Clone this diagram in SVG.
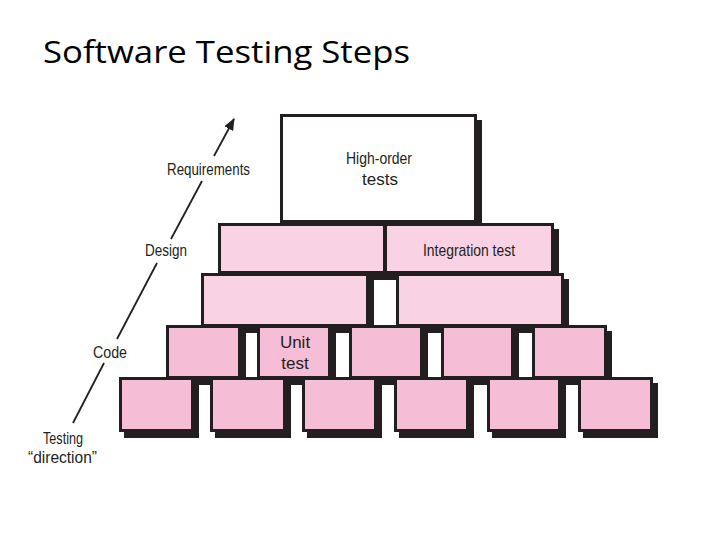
<svg xmlns="http://www.w3.org/2000/svg" width="720" height="540" viewBox="0 0 720 540">
<defs>
<style>
.title{font-family:"Open Sans","Liberation Sans",sans-serif;font-size:31px;fill:#000}
.t{font-family:"Liberation Sans",Arial,sans-serif;font-size:17px;fill:#231f20}
.box{stroke:#231f20;stroke-width:3}
.sh{fill:#231f20}
.w{fill:#ffffff}
.l{fill:#f9d3e4}
.p{fill:#f5bdd6}
.ax{stroke:#231f20;stroke-width:1.8;fill:none}
</style>
<marker id="ah" viewBox="0 0 12 10" refX="11" refY="5" markerWidth="12" markerHeight="10" markerUnits="userSpaceOnUse" orient="auto">
<path d="M0,0 L12,5 L0,10 z" fill="#231f20"/>
</marker>
</defs>
<rect width="720" height="540" fill="#fff"/>
<text class="title" x="43" y="63" textLength="367" lengthAdjust="spacingAndGlyphs">Software Testing Steps</text>

<g id="connectors">
<line class="ax" x1="214" y1="156" x2="234" y2="119" marker-end="url(#ah)"/>
<line class="ax" x1="202" y1="181" x2="171" y2="239"/>
<line class="ax" x1="157" y1="263" x2="117" y2="339"/>
<line class="ax" x1="104" y1="363" x2="73" y2="423"/>
</g>

<g id="label-requirements"><text class="t" x="167" y="175" textLength="83" lengthAdjust="spacingAndGlyphs">Requirements</text></g>
<g id="label-design"><text class="t" x="145" y="256" textLength="42" lengthAdjust="spacingAndGlyphs">Design</text></g>
<g id="label-code"><text class="t" x="93" y="358" textLength="34" lengthAdjust="spacingAndGlyphs">Code</text></g>
<g id="label-direction">
<text class="t" x="43" y="444" textLength="40" lengthAdjust="spacingAndGlyphs">Testing</text>
<text class="t" x="28" y="463" textLength="69" lengthAdjust="spacingAndGlyphs">“direction”</text>
</g>

<g id="high-order">
<rect class="sh" x="285" y="120" width="197" height="109"/>
<rect class="box w" x="281.5" y="115.5" width="194" height="106"/>
<text class="t" x="346" y="164" textLength="66" lengthAdjust="spacingAndGlyphs">High-order</text>
<text class="t" x="380" y="185" text-anchor="middle">tests</text>
</g>

<g id="row2-left">
<rect class="sh" x="223" y="229" width="168" height="51"/>
<rect class="box l" x="219.5" y="224.5" width="165" height="48"/>
</g>
<g id="integration-test">
<rect class="sh" x="389" y="229" width="170" height="51"/>
<rect class="box l" x="385.5" y="224.5" width="167" height="48"/>
<text class="t" x="423" y="256" textLength="92" lengthAdjust="spacingAndGlyphs">Integration test</text>
</g>

<g id="row3-left">
<rect class="sh" x="206" y="279" width="168" height="54"/>
<rect class="box l" x="202.5" y="274.5" width="165" height="51"/>
</g>
<g id="row3-right">
<rect class="sh" x="401" y="279" width="168" height="54"/>
<rect class="box l" x="397.5" y="274.5" width="165" height="51"/>
</g>

<g id="row4-1">
<rect class="sh" x="171" y="331" width="75" height="54"/>
<rect class="box p" x="167.5" y="326.5" width="72" height="51"/>
</g>
<g id="unit-test">
<rect class="sh" x="262" y="331" width="74" height="54"/>
<rect class="box p" x="258.5" y="326.5" width="71" height="51"/>
<text class="t" x="295" y="348" text-anchor="middle">Unit</text>
<text class="t" x="295" y="369" text-anchor="middle">test</text>
</g>
<g id="row4-3">
<rect class="sh" x="354" y="331" width="74" height="54"/>
<rect class="box p" x="350.5" y="326.5" width="71" height="51"/>
</g>
<g id="row4-4">
<rect class="sh" x="446" y="331" width="73" height="54"/>
<rect class="box p" x="442.5" y="326.5" width="70" height="51"/>
</g>
<g id="row4-5">
<rect class="sh" x="537" y="331" width="75" height="54"/>
<rect class="box p" x="533.5" y="326.5" width="72" height="51"/>
</g>

<g id="row5-1">
<rect class="sh" x="124" y="383" width="75" height="55"/>
<rect class="box p" x="120.5" y="378.5" width="72" height="52"/>
</g>
<g id="row5-2">
<rect class="sh" x="215" y="383" width="76" height="55"/>
<rect class="box p" x="211.5" y="378.5" width="73" height="52"/>
</g>
<g id="row5-3">
<rect class="sh" x="307" y="383" width="75" height="55"/>
<rect class="box p" x="303.5" y="378.5" width="72" height="52"/>
</g>
<g id="row5-4">
<rect class="sh" x="399" y="383" width="75" height="55"/>
<rect class="box p" x="395.5" y="378.5" width="72" height="52"/>
</g>
<g id="row5-5">
<rect class="sh" x="492" y="383" width="74" height="55"/>
<rect class="box p" x="488.5" y="378.5" width="71" height="52"/>
</g>
<g id="row5-6">
<rect class="sh" x="583" y="383" width="75" height="55"/>
<rect class="box p" x="579.5" y="378.5" width="72" height="52"/>
</g>
</svg>
